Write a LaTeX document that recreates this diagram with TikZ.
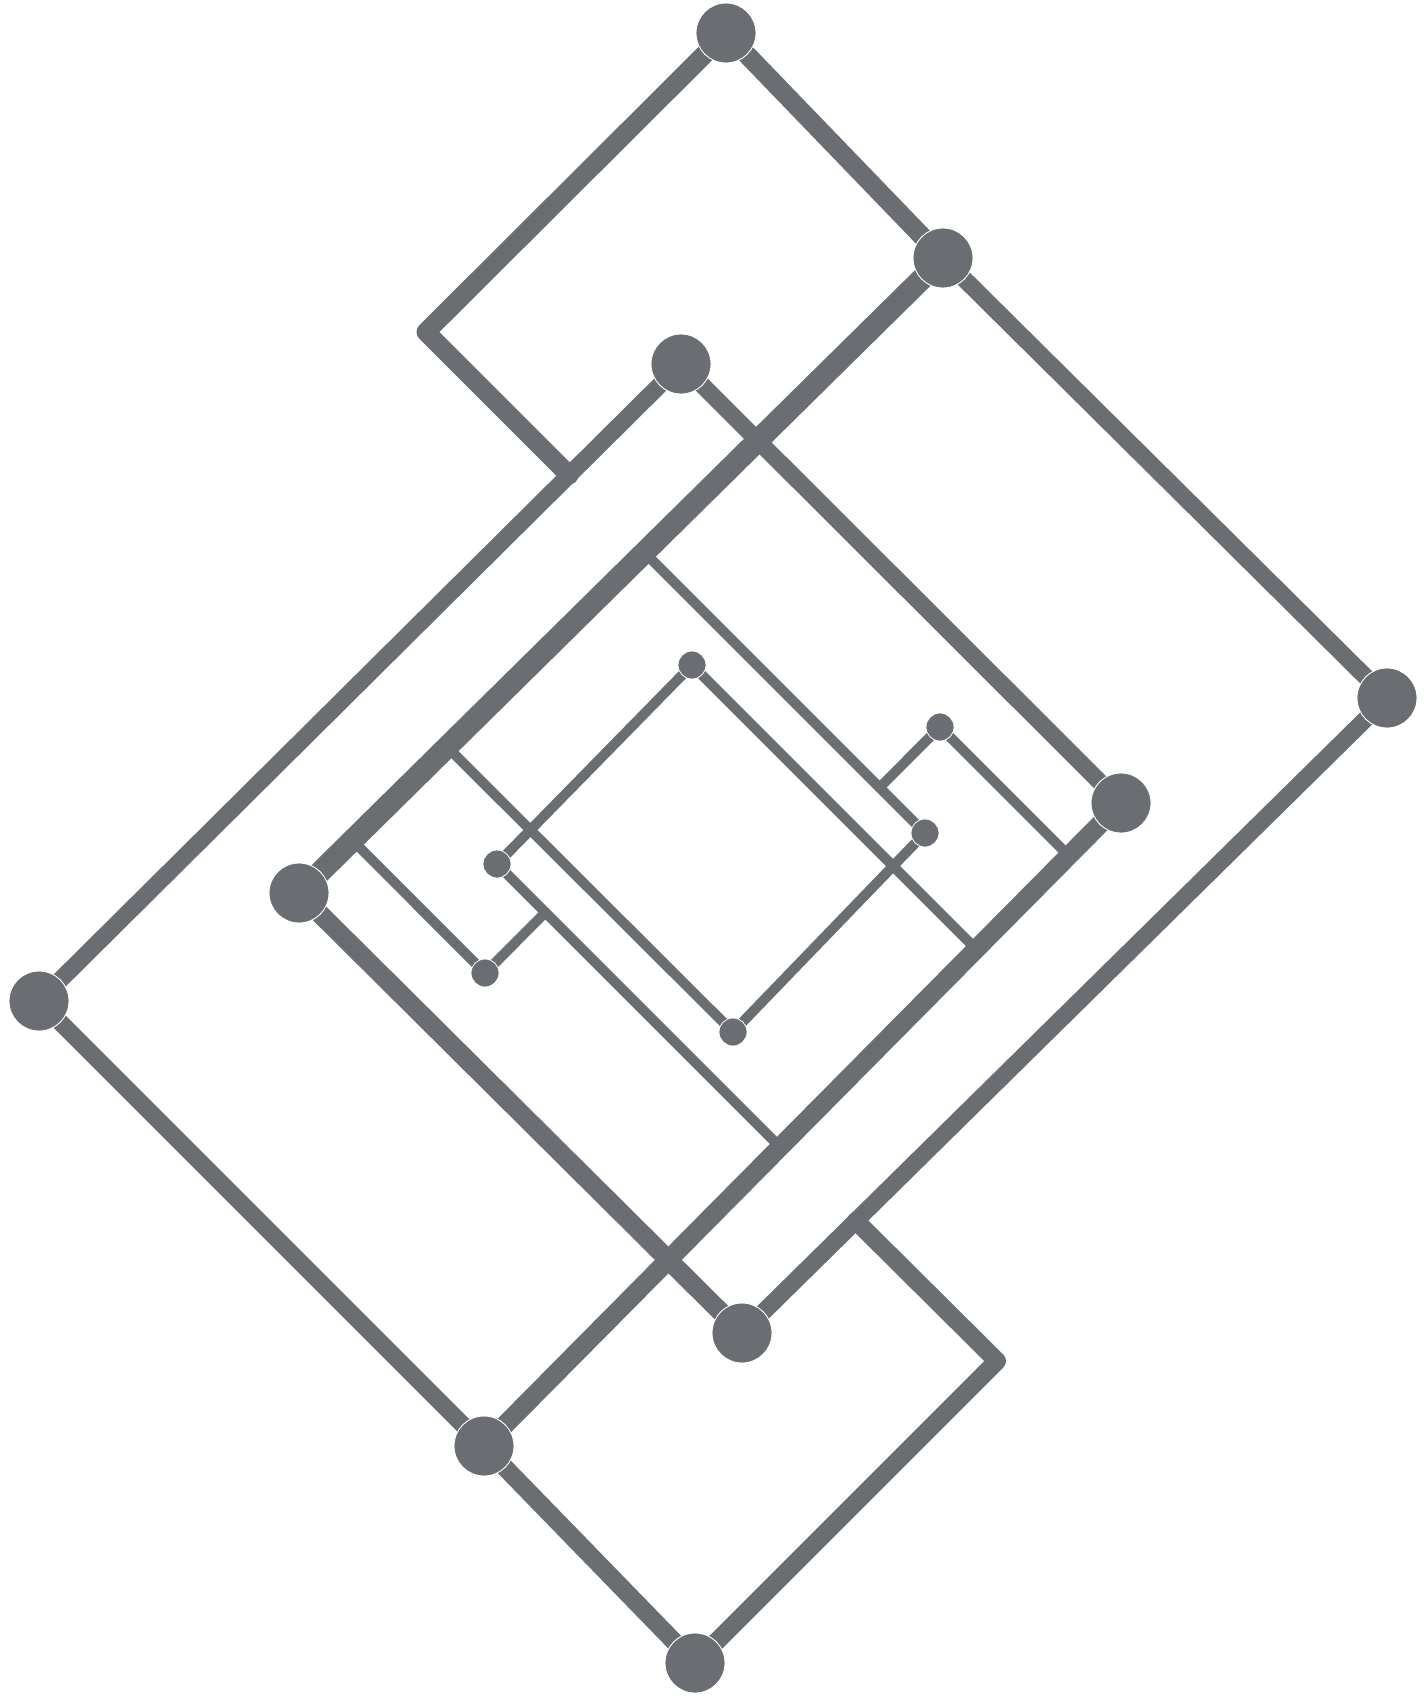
\documentclass[tikz,border=0pt]{standalone}
\usepackage{tikz}
\usetikzlibrary{calc}
\definecolor{abuLogo}{RGB}{106,110,114}

\begin{document}
\begin{tikzpicture}[
  x=1pt, y=-1pt,
  titikBesar/.style={circle, fill=abuLogo, draw=white, line width=0.9pt,
    minimum size=60pt, inner sep=0pt},
  titikKecil/.style={circle, fill=abuLogo, draw=white, line width=0.8pt,
    minimum size=28pt, inner sep=0pt},
  garis/.style={draw=abuLogo, line cap=round, line join=round, line width=#1},
  garis/.default=17pt,
  garisDalam/.style={garis=10pt}
]
  \useasboundingbox (0,0) rectangle (1424,1697);

  % titik besar
  \coordinate (A) at (726,33);
  \coordinate (B) at (943,258);
  \coordinate (C) at (681,364);
  \coordinate (D) at (1387,698);
  \coordinate (E) at (1121,803);
  \coordinate (F) at (299,893);
  \coordinate (G) at (39,1001);
  \coordinate (H) at (742,1333);
  \coordinate (I) at (484,1446);
  \coordinate (J) at (695,1663);
  % titik kecil
  \coordinate (s1) at (692,665);
  \coordinate (s2) at (940,727);
  \coordinate (s3) at (925,833);
  \coordinate (s4) at (497,864);
  \coordinate (s5) at (485,973);
  \coordinate (s6) at (733,1032);
  % sudut dan sambungan
  \coordinate (k1) at (426,332);
  \coordinate (k2) at (997,1361);
  \coordinate (j1) at ($(C)!0.1744!(G)$);
  \coordinate (j10) at ($(D)!0.8234!(H)$);
  \coordinate (j2) at ($(B)!0.4636!(F)$);
  \coordinate (j3) at ($(E)!0.2273!(I)$);
  \coordinate (j4) at ($(E)!0.5352!(I)$);
  \coordinate (j5) at ($(B)!0.770!(F)$);
  \coordinate (j6) at ($(B)!0.917!(F)$);
  \coordinate (j9) at ($(E)!0.082!(I)$);
  \coordinate (j7) at ($(s4)!0.171!(j4)$);
  \coordinate (j8) at ($(j2)!0.838!(s3)$);

  % garis dalam
  \draw[garisDalam] (j2) -- (s3);
  \draw[garisDalam] (s1) -- (j3);
  \draw[garisDalam] (s3) -- (s6);
  \draw[garisDalam] (s1) -- (s4);
  \draw[garisDalam] (s4) -- (j4);
  \draw[garisDalam] (j5) -- (s6);
  \draw[garisDalam] (j6) -- (s5);
  \draw[garisDalam] (s5) -- (j7);
  \draw[garisDalam] (s2) -- (j8);
  \draw[garisDalam] (s2) -- (j9);

  % garis luar
  \draw[garis=19pt] (A) -- (B);
  \draw[garis=19pt] (A) -- (k1) -- (j1);
  \draw[garis=17pt] (B) -- (D);
  \draw[garis=22pt] (B) -- (F);
  \draw[garis=17pt] (C) -- (G);
  \draw[garis=17pt] (C) -- (E);
  \draw[garis=17pt] (G) -- (I);
  \draw[garis=19pt] (F) -- (H);
  \draw[garis=17pt] (D) -- (H);
  \draw[garis=19pt] (E) -- (I);
  \draw[garis=18pt] (I) -- (J);
  \draw[garis=18pt] (J) -- (k2) -- (j10);

  % titik
  \foreach \t in {A,B,C,D,E,F,G,H,I,J}
    \node[titikBesar] at (\t) {};
  \foreach \t in {s1,s2,s3,s4,s5,s6}
    \node[titikKecil] at (\t) {};
\end{tikzpicture}
\end{document}
